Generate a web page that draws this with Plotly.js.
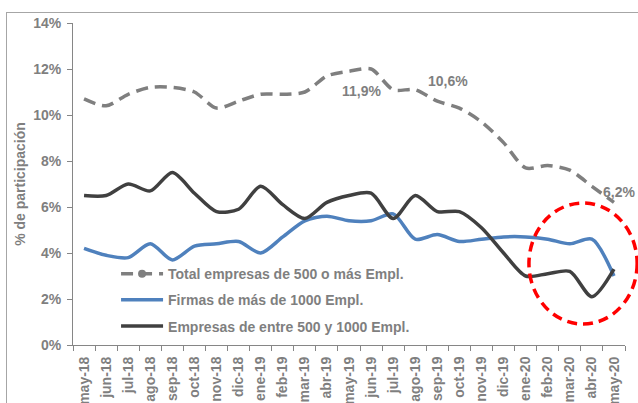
<!DOCTYPE html>
<html>
<head>
<meta charset="utf-8">
<script src="https://cdn.plot.ly/plotly-3.0.1.min.js"></script>
<style>
  html, body { margin: 0; padding: 0; overflow: hidden; background: #fff; }
  #chart {
    position: absolute; left: 6px; top: 12px;
    width: 640px; height: 400px;
    border-left: 1px solid #a6a6a6; border-top: 1px solid #a6a6a6;
  }
</style>
</head>
<body>
<div id="chart"></div>
<script>
// % de participación por tamaño de empresa, may-18 .. may-20
const MONTHS = [
    'may-18', 'jun-18', 'jul-18', 'ago-18', 'sep-18', 'oct-18', 'nov-18', 'dic-18',
    'ene-19', 'feb-19', 'mar-19', 'abr-19', 'may-19', 'jun-19', 'jul-19', 'ago-19',
    'sep-19', 'oct-19', 'nov-19', 'dic-19', 'ene-20', 'feb-20', 'mar-20', 'abr-20', 'may-20',
];
const TOTAL_500 = [
    10.7, 10.4, 10.9, 11.2, 11.2, 11.0, 10.3, 10.6,
    10.9, 10.9, 11.0, 11.7, 11.9, 12.0, 11.1, 11.1,
    10.6, 10.3, 9.7, 8.8, 7.7, 7.8, 7.6, 6.9, 6.2,
];
const MAS_1000 = [
    4.2, 3.9, 3.8, 4.4, 3.7, 4.3, 4.4, 4.5,
    4.0, 4.7, 5.4, 5.6, 5.4, 5.4, 5.7, 4.6,
    4.8, 4.5, 4.6, 4.7, 4.7, 4.6, 4.4, 4.6, 3.0,
];
const ENTRE_500_1000 = [
    6.5, 6.5, 7.0, 6.7, 7.5, 6.6, 5.8, 5.9,
    6.9, 6.1, 5.5, 6.2, 6.5, 6.6, 5.5, 6.5,
    5.8, 5.8, 5.1, 4.0, 3.0, 3.1, 3.2, 2.1, 3.3,
];
const LABELED_MONTHS = ['may-19', 'sep-19', 'may-20'];
const LABEL_SHIFTS = [[12, -20], [11, 20], [5, 10]];

const GRAY = '#7f7f7f';
const FONT = { family: 'Liberation Sans, Arial, sans-serif', color: GRAY, size: 14, weight: 'bold' };

const fmtPct = v => v.toFixed(1).replace('.', ',') + '%';

const traces = [
    {
        x: MONTHS, y: TOTAL_500, mode: 'lines', showlegend: false,
        line: { color: GRAY, width: 3.5, dash: '12px,7px', shape: 'spline', smoothing: 0.8 },
        hoverinfo: 'skip',
    },
    {   // legend entry for the total (Excel shows a marker in the key only)
        x: [null], y: [null], mode: 'lines+markers', name: 'Total empresas de 500 o más Empl.',
        line: { color: GRAY, width: 3.5, dash: '12px,7px' },
        marker: { color: GRAY, size: 8 }, legendgroup: 'a',
    },
    {
        x: MONTHS, y: MAS_1000, mode: 'lines', name: 'Firmas de más de 1000 Empl.',
        line: { color: '#4f81bd', width: 3.5, shape: 'spline', smoothing: 0.8 }, legendgroup: 'b',
    },
    {
        x: MONTHS, y: ENTRE_500_1000, mode: 'lines', name: 'Empresas de entre 500 y 1000 Empl.',
        line: { color: '#404040', width: 3.5, shape: 'spline', smoothing: 0.8 }, legendgroup: 'c',
    },
];

const annotations = LABELED_MONTHS.map((m, k) => {
    const i = MONTHS.indexOf(m);
    return {
        x: m, y: TOTAL_500[i], xref: 'x', yref: 'y', text: fmtPct(TOTAL_500[i]),
        showarrow: false, xshift: LABEL_SHIFTS[k][0], yshift: LABEL_SHIFTS[k][1],
        font: { ...FONT },
    };
});

const layout = {
    width: 640, height: 400,
    paper_bgcolor: '#ffffff', plot_bgcolor: '#ffffff',
    font: FONT,
    margin: { l: 66, r: 22, t: 10, b: 68 },
    xaxis: {
        type: 'category', range: [-0.5, MONTHS.length - 0.5], tickangle: -90, tickson: 'boundaries',
        ticks: 'outside', ticklen: 5, tickcolor: '#868686', ticklabelstandoff: 5,
        showline: true, linecolor: '#868686', linewidth: 1,
        showgrid: false, zeroline: false, tickfont: { ...FONT },
    },
    yaxis: {
        range: [0, 14], dtick: 2, ticksuffix: '%',
        ticks: 'outside', ticklen: 5, tickcolor: '#868686', ticklabelstandoff: 3,
        showline: true, linecolor: '#868686', linewidth: 1,
        showgrid: false, zeroline: false, tickfont: { ...FONT },
        title: { text: '% de participación', font: { ...FONT }, standoff: 4 },
    },
    legend: {
        x: 0.078, y: 0.27, xanchor: 'left', yanchor: 'top',
        bgcolor: 'rgba(0,0,0,0)', font: { ...FONT },
        itemwidth: 42, tracegroupgap: 5, traceorder: 'grouped',
    },
    annotations,
    shapes: [{
        type: 'circle', xref: 'paper', yref: 'paper',
        x0: 0.826, x1: 1.022, y0: 0.065, y1: 0.441,
        line: { color: '#ff0000', width: 3.5, dash: '10px,6px' },
    }],
};

Plotly.newPlot('chart', traces, layout, { displayModeBar: false, staticPlot: true });
</script>
</body>
</html>
